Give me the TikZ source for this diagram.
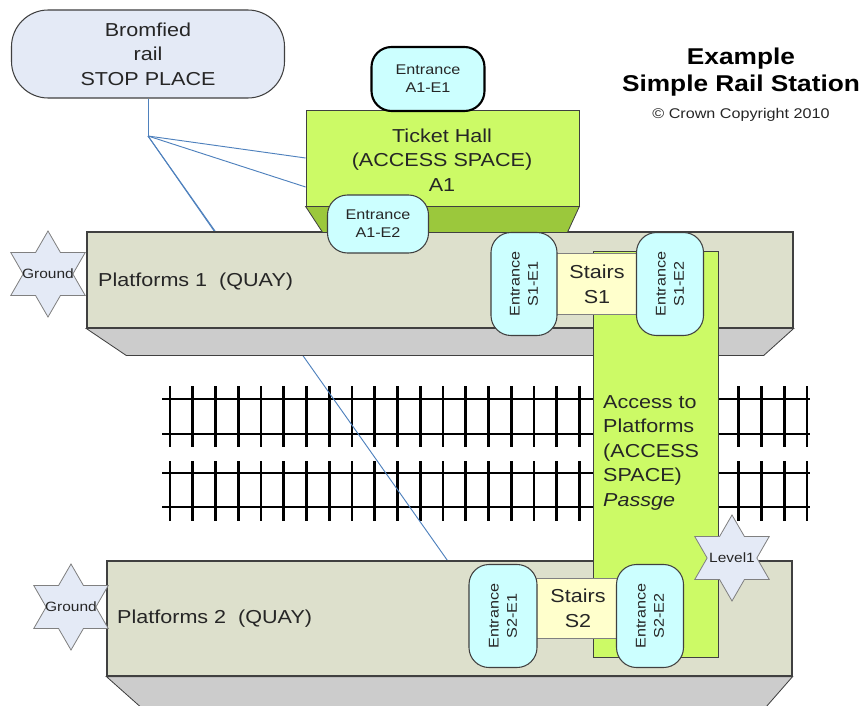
\documentclass[tikz,border=0pt]{standalone}
\usepackage{fontspec}
\setmainfont{Liberation Sans}[FakeStretch=1.15]
\usetikzlibrary{positioning,shapes.geometric,calc,fit}

\definecolor{stopfill}{RGB}{228,234,246}
\definecolor{entrancefill}{RGB}{204,255,255}
\definecolor{hallgreen}{RGB}{204,250,102}
\definecolor{hallshade}{RGB}{155,200,60}
\definecolor{quayfill}{RGB}{221,224,204}
\definecolor{quayshade}{RGB}{204,204,204}
\definecolor{stairfill}{RGB}{255,255,204}
\definecolor{linkblue}{RGB}{79,129,189}
\definecolor{edgegray}{RGB}{64,64,64}
\definecolor{textgray}{RGB}{38,38,38}

\tikzset{
    bigtext/.style={font=\fontsize{16}{21}\selectfont, text=textgray},
    stopplace/.style={bigtext, draw=edgegray, line width=0.9pt, fill=stopfill, rounded corners=1.1cm,
        minimum width=8.19cm, minimum height=2.64cm, align=center},
    entrance/.style={draw=edgegray, line width=0.9pt, fill=entrancefill, rounded corners=0.6cm,
        align=center, font=\fontsize{12}{15.5}\selectfont, text=textgray},
    accessspace/.style={draw=edgegray, line width=0.7pt, fill=hallgreen, inner sep=0pt},
    quay/.style={draw=edgegray, line width=1pt, fill=quayfill, inner sep=0pt},
    bevel/.style={draw=edgegray, line width=0.7pt},
    stairs/.style={bigtext, draw=gray, line width=0.7pt, fill=stairfill, align=center},
    levelstar/.style={star, star points=6, star point ratio=1.73, draw=gray, line width=0.7pt,
        fill=stopfill, minimum size=2.58cm, inner sep=0pt},
    startext/.style={font=\fontsize{11.5}{12}\selectfont, text=textgray},
    link/.style={draw=linkblue, line width=0.8pt},
    rail/.style={line width=2.3pt}
}

\begin{document}
\begin{tikzpicture}[x=0.03cm, y=-0.03cm]
    \clip (0,0) rectangle (866,706);

    \foreach \y in {399,434,473,507}
        \draw[rail] (162,\y) -- (810,\y);
    \foreach \i in {0,...,28} {
        \draw[rail] ({170+22.75*\i},386) -- ++(0,61);
        \draw[rail] ({170+22.75*\i},461) -- ++(0,60);
    }

    \node[stopplace] (stop) at (148,54) {Bromfied\\rail\\STOP PLACE};
    \coordinate (hub) at (148,136);

    \node[quay, fit={(87,232) (793,328)}] (plat1) {};
    \node[quay, fit={(107,561) (792,676)}] (plat2) {};
    \node[accessspace, fit={(306,110) (579,206)}] (hall) {};

    \draw[link] (stop.south) -- (hub);
    \draw[link] (hub) -- (hall.west);
    \draw[link] (hub) -- ($(hall.west)+(0,29)$);
    \draw[link] (hub) -- ($(plat2.north west)+(341,0)$);
    \draw[link] (hub) -- ($(plat1.north west)+(128,0)$);

    % platform 1 with its edge
    \filldraw[bevel, fill=quayshade] (plat1.south west) -- ++(40,27) -- ($(plat1.south east)+(-30,27)$) -- (plat1.south east) -- cycle;
    \node[quay, fit={(87,232) (793,328)}] {};
    \node[bigtext, anchor=base west, inner sep=0pt] (plat1text) at (98,286) {Platforms 1\ \ (QUAY)};
    \node[levelstar, label={[startext]center:Ground}] (ground1) at (48,274) {};

    % platform 2 with its edge
    \filldraw[bevel, fill=quayshade] (plat2.south west) -- ++(36,32) -- ($(plat2.south east)+(-28,32)$) -- (plat2.south east) -- cycle;
    \node[quay, fit={(107,561) (792,676)}] {};
    \node[bigtext, anchor=base west, inner sep=0pt] (plat2text) at (117,623) {Platforms 2\ \ (QUAY)};
    \node[levelstar, label={[startext]center:Ground}] (ground2) at (71,607) {};

    % ticket hall
    \filldraw[bevel, fill=hallshade] (hall.south west) -- ++(17,26) -- ($(hall.south east)+(-12,26)$) -- (hall.south east) -- cycle;
    \node[accessspace, fit={(306,110) (579,206)}] {};
    \node[bigtext, align=center, inner sep=0pt] (halltext) at (442,160) {Ticket Hall\\(ACCESS SPACE)\\A1};

    % passage down to platform 2
    \node[accessspace, fit={(593,251) (718,657)}] (passage) {};
    \node[bigtext, align=left, anchor=north west, inner sep=0pt] (passtext) at (603,395)
        {Access to\\Platforms\\(ACCESS\\SPACE)\\\textit{Passge}};

    \node[stairs, minimum width=2.55cm, minimum height=1.83cm] (stairs1) at (597,284) {Stairs\\S1};
    \node[stairs, minimum width=2.49cm, minimum height=1.8cm] (stairs2) at (578,608) {Stairs\\S2};

    \node[entrance, line width=1.8pt, draw=black, minimum width=3.39cm, minimum height=1.92cm] (a1e1) at (428,79) {Entrance\\A1-E1};
    \node[entrance, minimum width=3.03cm, minimum height=1.74cm] (a1e2) at (378,224) {Entrance\\A1-E2};
    \node[entrance, rotate=90, minimum width=3.09cm, minimum height=1.98cm] (s1e1) at (524,284) {Entrance\\S1-E1};
    \node[entrance, rotate=90, minimum width=3.09cm, minimum height=2.01cm] (s1e2) at (670,284) {Entrance\\S1-E2};
    \node[entrance, rotate=90, minimum width=3.09cm, minimum height=2.04cm] (s2e1) at (503,616) {Entrance\\S2-E1};
    \node[entrance, rotate=90, minimum width=3.09cm, minimum height=2.01cm] (s2e2) at (650,616) {Entrance\\S2-E2};

    \node[levelstar, label={[startext]center:Level1}] (level1) at (732,558) {};

    \node[align=center, font=\fontsize{19.5}{23}\selectfont\bfseries, text=black] (title) at (741,72) {Example\\Simple Rail Station};
    \node[font=\fontsize{12}{13}\selectfont, text=textgray] (copy) at (741,115) {\textcopyright\ Crown Copyright 2010};
\end{tikzpicture}
\end{document}
